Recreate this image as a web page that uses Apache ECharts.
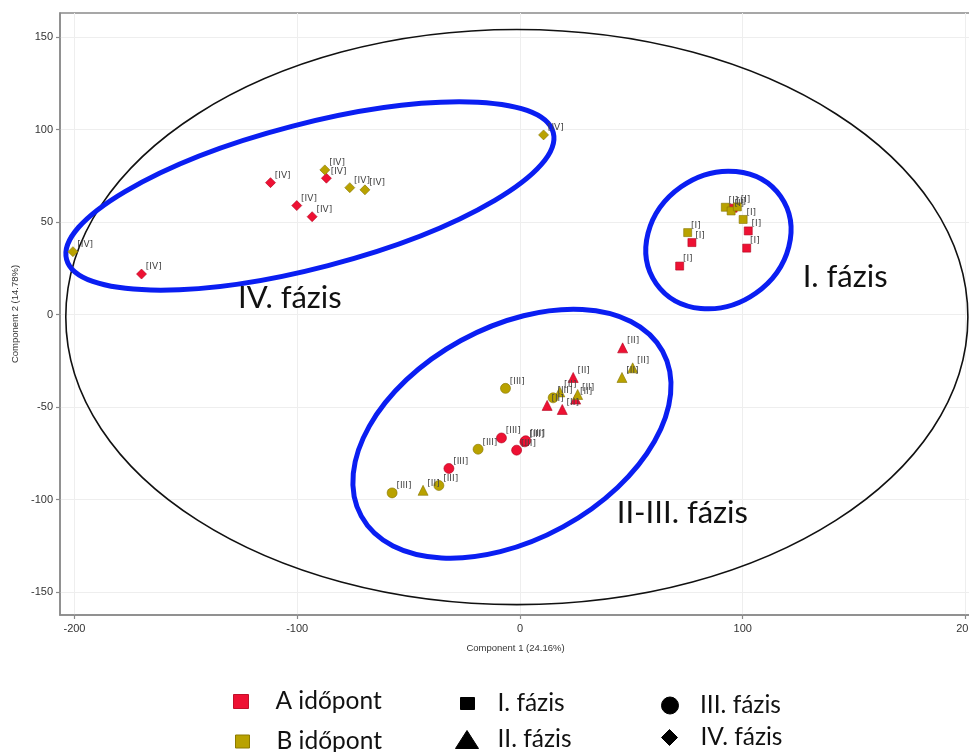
<!DOCTYPE html>
<html><head><meta charset="utf-8">
<script src="https://cdn.jsdelivr.net/npm/echarts@6/dist/echarts.min.js"></script>
<style>html,body{margin:0;padding:0;background:#fff}#c{width:969px;height:752px}</style>
</head><body><div id="c"></div>
<script>
// ---- data ----
const xTicks = [-200, -100, 0, 100, 200];
const yTicks = [-150, -100, -50, 0, 50, 100, 150];
const xTitle = 'Component 1 (24.16%)';
const yTitle = 'Component 2 (14.78%)';
const timeNames = ['A időpont', 'B időpont'];
const phaseNames = ['I. fázis', 'II. fázis', 'III. fázis', 'IV. fázis'];
const phaseTags = ['[I]', '[II]', '[III]', '[IV]'];

// A időpont (red)
const A_I   = [[95.7, 57.5], [102.5, 45.2], [101.8, 35.9], [77.2, 38.9], [71.7, 26.2]];
const A_II  = [[46.1, -18.0], [23.9, -34.0], [25.0, -45.7], [12.2, -49.1], [19.0, -51.3]];
const A_III = [[-8.3, -66.7], [2.2, -68.8], [2.6, -68.2], [-1.5, -73.3], [-31.9, -83.2]];
const A_IV  = [[-169.9, 21.9], [-112.0, 71.3], [-86.9, 73.7], [-100.2, 58.9], [-93.3, 52.9]];
// B időpont (olive)
const B_I   = [[92.2, 58.0], [94.8, 56.0], [97.6, 58.2], [100.2, 51.4], [75.3, 44.3]];
const B_II  = [[50.6, -28.8], [45.8, -34.0], [17.9, -41.8], [25.9, -43.2], [-43.5, -95.0]];
const B_III = [[-6.5, -39.9], [14.9, -45.0], [-18.8, -72.8], [-36.4, -92.4], [-57.4, -96.4]];
const B_IV  = [[-200.7, 34.0], [-87.6, 78.2], [-76.4, 68.6], [-69.6, 67.4], [10.6, 97.1]];

const groupData = [[A_I, A_II, A_III, A_IV], [B_I, B_II, B_III, B_IV]];

// annotation ellipses: centre in data units, semi-axes in x-axis units, rotation in degrees
const ellipseDefs = [
  { c: [-1.4, -1.35], a: 202.5, b: 129.1, rot: 0, color: '#111', width: 1.6 },
  { c: [-94.3, 64.1], a: 112.9, b: 32.3, rot: 14.6, color: '#0a1ef2', width: 5 },
  { c: [89.1, 40.3], a: 34.1, b: 29.2, rot: 35, color: '#0a1ef2', width: 5 },
  { c: [-3.6, -64.4], a: 77.1, b: 47.7, rot: 28.7, color: '#0a1ef2', width: 5 }
];
const annotTexts = [
  { text: 'IV. fázis', at: [-103.3, 8.9] },
  { text: 'I. fázis', at: [146.0, 20.3] },
  { text: 'II-III. fázis', at: [72.9, -107.4] }
];

// ---- styles ----
const timeColors = ['#ee1133', '#b9a200'];
const timeBorders = ['#b0001c', '#857400'];
const phaseSymbols = ['rect', 'triangle', 'circle', 'diamond'];
const phaseSizes = [8, 10, 10, 10];

const series = [];
groupData.forEach((phs, ti) => {
  phs.forEach((arr, pi) => {
    series.push({
      type: 'scatter',
      name: timeNames[ti] + ' ' + phaseNames[pi],
      data: arr,
      symbol: phaseSymbols[pi],
      symbolSize: phaseSizes[pi],
      itemStyle: { color: timeColors[ti], borderColor: timeBorders[ti], borderWidth: 0.6, opacity: 1 },
      label: {
        show: true, formatter: phaseTags[pi], position: 'right', distance: 0, offset: [-1, -7],
        fontSize: 9, color: '#444', fontFamily: 'DejaVu Sans'
      },
      emphasis: { disabled: true },
      z: 3
    });
  });
});
// legend-only series
const legendDefs = [
  { name: timeNames[0], symbol: 'rect', color: timeColors[0], border: '#c0102a', left: 233, top: 689, w: 15, h: 14, pad: 22 },
  { name: timeNames[1], symbol: 'rect', color: timeColors[1], border: '#8c7a00', left: 235, top: 729, w: 14, h: 13, pad: 22 },
  { name: phaseNames[0], symbol: 'rect', color: '#000', border: '#000', left: 460, top: 691, w: 14, h: 12, pad: 18 },
  { name: phaseNames[1], symbol: 'triangle', color: '#000', border: '#000', left: 455, top: 727, w: 23, h: 18, pad: 14 },
  { name: phaseNames[2], symbol: 'circle', color: '#000', border: '#000', left: 661, top: 693, w: 18, h: 17, pad: 16 },
  { name: phaseNames[3], symbol: 'diamond', color: '#000', border: '#000', left: 661, top: 725, w: 16, h: 16, pad: 18 }
];
legendDefs.forEach(d => {
  series.push({ type: 'scatter', name: d.name, data: [], symbol: d.symbol,
    itemStyle: { color: d.color, borderColor: d.border, borderWidth: 0.6 } });
});
const legends = legendDefs.map(d => ({
  data: [d.name], left: d.left, top: d.top, orient: 'vertical', padding: 0,
  itemWidth: d.w, itemHeight: d.h, selectedMode: false,
  itemStyle: { color: d.color, borderColor: d.border, borderWidth: 1, opacity: 1 },
  textStyle: { fontSize: 24.5, lineHeight: 24, fontFamily: 'Lato', color: '#111', padding: [0, 0, 0, d.pad] }
}));

const axisCommon = {
  type: 'value',
  axisLine: { show: true, onZero: false, lineStyle: { color: '#8a8a8a', width: 1.5 } },
  axisTick: { show: true, length: 4, lineStyle: { color: '#8a8a8a', width: 1.2 } },
  splitLine: { show: true, lineStyle: { color: '#eeeeee', width: 1 } },
  nameTextStyle: { fontSize: 9.5, color: '#333', fontFamily: 'Liberation Sans' }
};

const chart = echarts.init(document.getElementById('c'), null, { renderer: 'canvas' });
chart.setOption({
  animation: false,
  backgroundColor: '#fff',
  grid: { left: 60, right: -2, top: 13, bottom: 137, show: true, borderColor: '#8a8a8a', borderWidth: 1.5,
    containLabel: false, outerBoundsMode: 'none' },
  xAxis: Object.assign({}, axisCommon, {
    min: -206.5, max: 202.5,
    axisTick: Object.assign({}, axisCommon.axisTick, { customValues: xTicks }),
    axisLabel: { customValues: xTicks, fontSize: 11, color: '#333', fontFamily: 'Liberation Sans', margin: 8 },
    name: xTitle, nameLocation: 'middle', nameGap: 28
  }),
  yAxis: Object.assign({}, axisCommon, {
    min: -162.4, max: 163.0,
    axisTick: Object.assign({}, axisCommon.axisTick, { customValues: yTicks }),
    axisLabel: { customValues: yTicks, fontSize: 11, color: '#333', fontFamily: 'Liberation Sans', margin: 7 },
    name: yTitle, nameLocation: 'middle', nameGap: 39, nameRotate: 90
  }),
  legend: legends,
  series: series
});

function drawAnnotations() {
  const p0 = chart.convertToPixel({ gridIndex: 0 }, [0, 0]);
  const p1 = chart.convertToPixel({ gridIndex: 0 }, [100, 0]);
  const pxPerX = (p1[0] - p0[0]) / 100;
  const els = [];
  ellipseDefs.forEach(e => {
    const c = chart.convertToPixel({ gridIndex: 0 }, e.c);
    els.push({
      type: 'ellipse', x: c[0], y: c[1], rotation: e.rot * Math.PI / 180, z: 1, silent: true,
      shape: { cx: 0, cy: 0, rx: e.a * pxPerX, ry: e.b * pxPerX },
      style: { fill: null, stroke: e.color, lineWidth: e.width }
    });
  });
  annotTexts.forEach(t => {
    const c = chart.convertToPixel({ gridIndex: 0 }, t.at);
    els.push({
      type: 'text', x: c[0], y: c[1], z: 5, silent: true,
      style: { text: t.text, font: '31px Lato', fill: '#111', align: 'center', verticalAlign: 'middle' }
    });
  });
  chart.setOption({ graphic: els });
}
drawAnnotations();
</script>
</body></html>
